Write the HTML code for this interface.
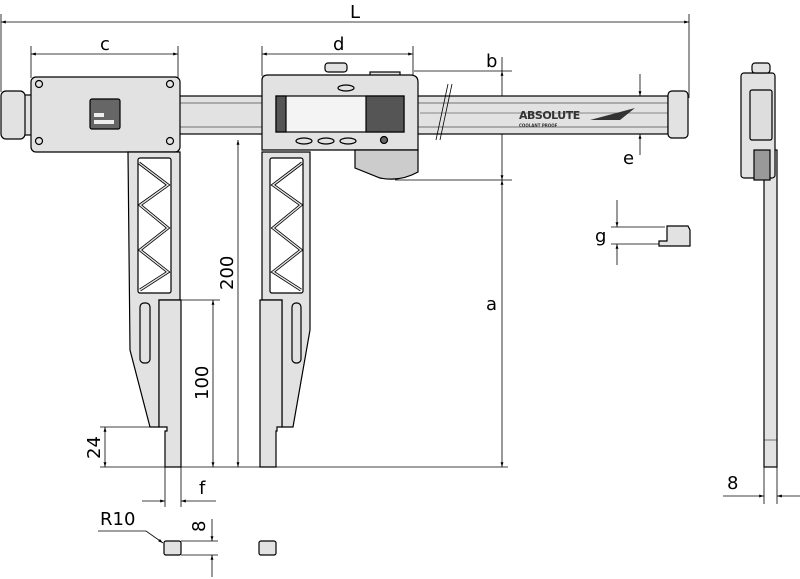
<!DOCTYPE html>
<html><head><style>html,body{margin:0;padding:0;background:#fff}svg{display:block}</style></head><body>
<svg width="800" height="579" viewBox="0 0 800 579" xmlns="http://www.w3.org/2000/svg" font-family="'DejaVu Sans', 'Liberation Sans', sans-serif">
<defs>
<marker id="a" viewBox="0 0 10 10" refX="10" refY="5" markerWidth="8" markerHeight="6" orient="auto-start-reverse"><path d="M0,2 L10,5 L0,8z" fill="#000"/></marker>
</defs>
<g stroke="#000" stroke-width="0.8" fill="none">
<line x1="1" y1="14" x2="1" y2="92"/><line x1="689" y1="14" x2="689" y2="98"/>
<line x1="1" y1="22" x2="689" y2="22" marker-start="url(#a)" marker-end="url(#a)"/>
<line x1="31" y1="46" x2="31" y2="78"/><line x1="178" y1="46" x2="178" y2="78"/>
<line x1="31" y1="54" x2="178" y2="54" marker-start="url(#a)" marker-end="url(#a)"/>
<line x1="262" y1="46" x2="262" y2="76"/><line x1="413" y1="46" x2="413" y2="76"/>
<line x1="262" y1="54" x2="413" y2="54" marker-start="url(#a)" marker-end="url(#a)"/>
<line x1="414" y1="71" x2="512" y2="71"/><line x1="395" y1="180" x2="512" y2="180"/>
<line x1="502" y1="57" x2="502" y2="71" /><line x1="502" y1="71" x2="502" y2="180" marker-start="url(#a)" marker-end="url(#a)"/>
<line x1="502" y1="180" x2="502" y2="467" marker-start="url(#a)" marker-end="url(#a)"/>
<line x1="640" y1="74" x2="640" y2="96" marker-end="url(#a)"/><line x1="640" y1="155" x2="640" y2="134" marker-end="url(#a)"/>
<line x1="100" y1="467" x2="508" y2="467"/>
<line x1="180" y1="300" x2="220" y2="300"/>
<line x1="238" y1="140" x2="238" y2="467" marker-start="url(#a)" marker-end="url(#a)"/>
<line x1="213" y1="300" x2="213" y2="467" marker-start="url(#a)" marker-end="url(#a)"/>
<line x1="100" y1="427" x2="160" y2="427"/>
<line x1="105" y1="427" x2="105" y2="467" marker-start="url(#a)" marker-end="url(#a)"/>
<line x1="165" y1="467" x2="165" y2="507"/><line x1="181" y1="467" x2="181" y2="507"/>
<line x1="142" y1="501" x2="165" y2="501" marker-end="url(#a)"/><line x1="216" y1="501" x2="181" y2="501" marker-end="url(#a)"/>
<path d="M98,531 L146,531 L163,543" marker-end="url(#a)"/>
<line x1="181" y1="541" x2="218" y2="541"/><line x1="181" y1="555" x2="218" y2="555"/>
<line x1="212" y1="519" x2="212" y2="541" marker-end="url(#a)"/><line x1="212" y1="577" x2="212" y2="555" marker-end="url(#a)"/>
<line x1="617" y1="200" x2="617" y2="227" marker-end="url(#a)"/><line x1="617" y1="265" x2="617" y2="244" marker-end="url(#a)"/>
<line x1="611" y1="227" x2="665" y2="227"/><line x1="611" y1="244" x2="665" y2="244"/>
<line x1="764" y1="467" x2="764" y2="504"/><line x1="777" y1="467" x2="777" y2="504"/>
<line x1="723" y1="496" x2="764" y2="496" marker-end="url(#a)"/><line x1="800" y1="496" x2="777" y2="496" marker-end="url(#a)"/>
</g>

<g stroke="#000" stroke-width="1.2" fill="#e2e2e2">
<rect x="178" y="96" width="490" height="38"/>
<line x1="178" y1="103" x2="668" y2="103" stroke-width="0.6"/><line x1="178" y1="127" x2="668" y2="127" stroke-width="0.6"/>
<line x1="420" y1="113" x2="668" y2="113" stroke-width="0.4"/>
<rect x="668" y="91" width="20" height="47" rx="4"/>
<rect x="20" y="95" width="12" height="40"/>
<rect x="1" y="91" width="24" height="48" rx="5"/>
<rect x="31" y="77" width="149" height="75" rx="5"/>
<circle cx="39" cy="84" r="3.5"/><circle cx="170" cy="84" r="3.5"/><circle cx="39" cy="141" r="3.5"/><circle cx="170" cy="141" r="3.5"/>
<rect x="90" y="99" width="30" height="30" rx="2" fill="#666"/>
<rect x="94" y="113" width="10" height="4" fill="#eee" stroke="none"/>
<rect x="94" y="120" width="20" height="4" fill="#eee" stroke="none"/>
<path d="M128,152 L180,152 L180,300 L159,300 L159,427 L150,427 L130,350 Z"/>
<rect x="138" y="158" width="33" height="135" rx="2" fill="#fff"/>
<path d="M139,163 L168,185 L140,205 L168,228 L140,250 L168,272 L140,290" fill="none" stroke-width="3"/>
<path d="M139,163 L168,185 L140,205 L168,228 L140,250 L168,272 L140,290" fill="none" stroke="#e2e2e2" stroke-width="1.4"/>
<rect x="140" y="303" width="10" height="60" rx="4"/>
<path d="M159,300 L181,300 L181,467 L165,467 L165,431 L167,431 L167,427 L159,427 Z"/>
<path d="M262,152 L310,152 L310,330 L293,427 L282,427 L282,300 L262,300 Z"/>
<rect x="270" y="158" width="33" height="135" rx="2" fill="#fff"/>
<path d="M302,163 L273,185 L301,205 L273,228 L301,250 L273,272 L301,290" fill="none" stroke-width="3"/>
<path d="M302,163 L273,185 L301,205 L273,228 L301,250 L273,272 L301,290" fill="none" stroke="#e2e2e2" stroke-width="1.4"/>
<rect x="292" y="303" width="9" height="60" rx="4"/>
<path d="M260,300 L282,300 L282,427 L277,427 L277,431 L276,431 L276,467 L260,467 Z"/>
<rect x="325" y="63" width="22" height="9" rx="3"/>
<rect x="370" y="72" width="30" height="4"/>
<path d="M262,80 Q262,75 268,75 L410,75 Q418,75 418,82 L418,150 L262,150 Z"/>
<path d="M355,150 L418,150 L418,172 Q400,182 380,178 L355,168 Z" fill="#ccc"/>
<rect x="276" y="96" width="128" height="36" fill="#f4f4f4"/>
<rect x="276" y="96" width="10" height="36" fill="#555"/>
<rect x="366" y="96" width="38" height="36" fill="#555"/>
<ellipse cx="346" cy="88" rx="8" ry="3"/>
<ellipse cx="304" cy="141" rx="8" ry="3"/><ellipse cx="326" cy="141" rx="8" ry="3"/><ellipse cx="348" cy="141" rx="8" ry="3"/>
<circle cx="384" cy="140" r="3.5" fill="#666"/>
<rect x="164" y="541" width="17" height="14" rx="2"/>
<rect x="259" y="541" width="17" height="14" rx="2"/>
<path d="M667,226 L688,226 L690,230 L690,246 L659,246 L659,241 L667,241 Z"/>
<rect x="764" y="150" width="13" height="317"/>
<line x1="764" y1="440" x2="777" y2="440" stroke-width="0.5"/>
<rect x="741" y="73" width="34" height="105" rx="3"/>
<rect x="752" y="63" width="18" height="10" rx="3"/>
<rect x="750" y="90" width="22" height="50" rx="2" fill="#ddd"/>
<rect x="754" y="150" width="16" height="30" fill="#999"/>
</g>
<line x1="436" y1="140" x2="448" y2="84" stroke="#000" stroke-width="0.8"/>
<line x1="440" y1="140" x2="452" y2="84" stroke="#000" stroke-width="0.8"/>
<text x="519" y="119" font-size="11" font-weight="bold" fill="#333" letter-spacing="-0.5">ABSOLUTE</text>
<text x="519" y="127" font-size="4" font-weight="bold" fill="#333">COOLANT PROOF</text>
<path d="M590,120 L635,108 L620,120 Z" fill="#333"/>

<g font-size="18" fill="#000">
<text x="350" y="18">L</text>
<text x="100" y="50">c</text>
<text x="333" y="50">d</text>
<text x="486" y="67">b</text>
<text x="486" y="310">a</text>
<text x="623" y="164">e</text>
<text x="595" y="242">g</text>
<text x="199" y="494">f</text>
<text x="727" y="489">8</text>
<text x="100" y="525">R10</text>
<text transform="translate(233,290) rotate(-90)">200</text>
<text transform="translate(208,400) rotate(-90)">100</text>
<text transform="translate(100,459) rotate(-90)">24</text>
<text transform="translate(205,532) rotate(-90)">8</text>
</g>
</svg>
</body></html>
